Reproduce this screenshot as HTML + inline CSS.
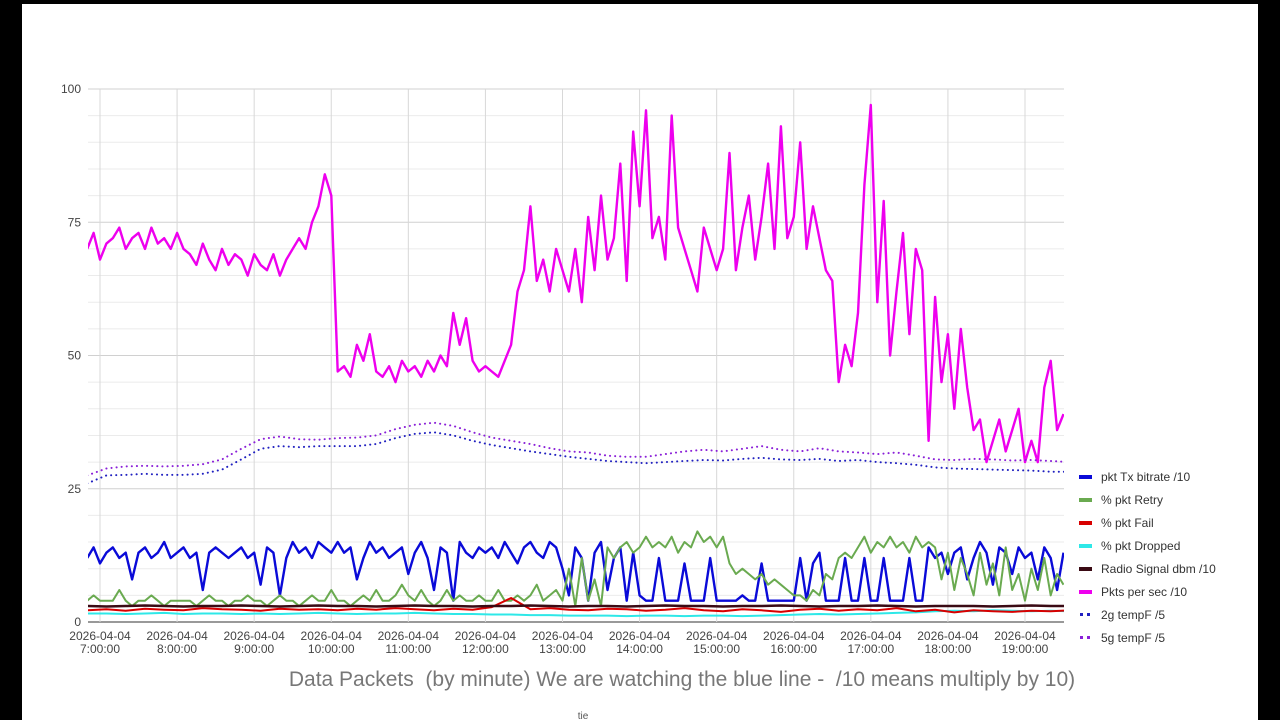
<!DOCTYPE html>
<html><head><meta charset="utf-8"><style>
html,body{margin:0;padding:0;background:#000;}
svg{display:block;font-family:"Liberation Sans",Arial,sans-serif;}
</style></head><body>
<svg id="chart" width="1280" height="720" viewBox="0 0 1280 720">
<rect x="0" y="0" width="1280" height="720" fill="#000"/>
<rect x="22" y="4" width="1236" height="716" fill="#fff"/>
<g id="grid"></g>
<g id="series"></g>
<g id="axes"></g>
<g id="legend"></g>
<text x="682" y="686" text-anchor="middle" font-size="21" fill="#777" style="white-space:pre" xml:space="preserve">Data Packets  (by minute) We are watching the blue line -  /10 means multiply by 10)</text>
<text x="583" y="719" text-anchor="middle" font-size="10" fill="#555">tie</text>
</svg>
<script>
// ---- data ----
const yTicks = [0, 25, 50, 75, 100];
const hourTicks = [7, 8, 9, 10, 11, 12, 13, 14, 15, 16, 17, 18, 19];
const dateLabel = "2026-04-04";
const startMinute = 410; // 6:50
const fineStep = 5;
const coarseStep = 15;

const pktsPerSec = [70,73,68,
71,72,74,70,72,73,70,74,71,72,70,73,
70,69,67,71,68,66,70,67,69,68,65,69,
67,66,69,65,68,70,72,70,75,78,84,80,
47,48,46,52,49,54,47,46,48,45,49,47,
48,46,49,47,50,48,58,52,57,49,47,48,
47,46,49,52,62,66,78,64,68,62,70,66,
62,70,60,76,66,80,68,72,86,64,92,78,
96,72,76,68,95,74,70,66,62,74,70,66,
70,88,66,74,80,68,76,86,70,93,72,76,
90,70,78,72,66,64,45,52,48,58,82,97,
60,79,50,62,73,54,70,66,34,61,45,54,
40,55,44,36,38,30,34,38,32,36,40,30,
34,30,44,49,36,39];

const txBitrate = [12,14,11,
13,14,12,13,8,13,14,12,13,15,12,13,
14,12,13,6,13,14,13,12,13,14,12,13,
7,14,13,5,12,15,13,14,12,15,14,13,
15,13,14,8,12,15,13,14,12,13,14,9,
13,15,12,6,14,13,4,15,13,12,14,13,
14,12,15,13,11,14,15,13,12,15,14,10,
5,14,12,4,13,15,6,12,14,4,13,5,
4,4,12,4,4,4,11,4,4,4,12,4,
4,4,4,5,4,4,11,4,4,4,4,4,
12,4,11,13,4,4,4,12,4,4,12,4,
4,12,4,4,4,12,4,4,14,12,13,9,
13,14,8,12,15,13,7,14,13,9,14,12,
13,8,14,12,6,13];

const pktRetry = [4,5,4,
4,4,6,4,3,4,4,5,4,3,4,4,
4,4,3,4,5,4,4,3,4,4,5,4,
4,3,4,5,4,4,3,4,5,4,4,6,
4,4,3,4,5,4,6,4,4,5,7,5,
4,6,4,3,4,6,4,5,4,4,5,4,
4,6,4,4,5,4,5,7,4,5,6,4,
10,3,12,4,8,3,14,12,14,15,13,14,
16,14,15,14,16,13,15,14,17,15,16,14,
16,11,9,10,9,8,9,7,8,7,6,5,
5,4,6,5,9,8,12,13,12,14,16,13,
15,14,16,14,15,13,16,14,15,14,8,13,
6,12,9,5,13,7,11,5,14,6,9,4,
10,6,12,5,9,7];

const pktFail = [2.2,2.4,2.1,2.5,2.3,2.2,2.6,2.4,2.3,2.1,2.5,2.3,2.4,2.2,2.5,2.3,2.6,2.4,2.2,2.5,2.3,2.8,4.5,2.4,2.6,2.3,2.2,2.5,2.4,2.1,2.3,2.6,2.2,2.0,2.4,2.2,1.9,2.3,2.5,2.1,2.4,2.2,2.6,2.0,2.3,1.8,2.2,2.0,1.9,2.1,2.0,2.2];
const pktDropped = [1.6,1.6,1.5,1.6,1.7,1.5,1.6,1.6,1.5,1.6,1.5,1.6,1.7,1.6,1.5,1.6,1.6,1.7,1.6,1.5,1.5,1.4,1.4,1.3,1.3,1.2,1.2,1.2,1.1,1.2,1.2,1.1,1.2,1.2,1.1,1.2,1.3,1.4,1.5,1.4,1.5,1.6,1.7,1.8,2.0,2.1,2.0,2.2,2.1,2.0,2.1,2.0];
const radioSignal = [3.0,2.9,3.0,3.1,3.0,2.9,3.0,3.0,3.1,3.0,2.9,3.0,3.1,3.0,3.0,2.9,3.0,3.1,3.0,3.0,2.9,3.0,3.0,3.1,3.0,2.9,3.0,3.0,2.9,3.0,3.1,3.0,3.0,2.9,3.0,3.0,3.1,3.0,2.9,3.0,3.0,3.1,3.0,2.9,3.0,3.0,3.0,2.9,3.0,3.1,3.0,3.0];
const temp2g = [26,27.5,27.6,27.8,27.6,27.6,27.8,28.6,30.5,32.5,33,32.8,33,33,33,33.4,34.5,35.3,35.6,35,34,33.2,32.6,32,31.5,31,30.6,30.2,30,29.8,30,30.2,30.4,30.3,30.6,30.8,30.5,30.4,30.6,30.2,30.4,30,29.8,29.5,29,28.8,28.7,28.6,28.5,28.4,28.2,28.2];
const temp5g = [27.5,28.8,29.2,29.3,29.2,29.3,29.6,30.5,32.5,34.3,34.8,34.3,34.2,34.5,34.6,35,36.2,37,37.4,36.8,35.6,34.6,34,33.4,32.6,32,31.8,31.2,31,31,31.5,32,32.3,32,32.5,33,32.3,32,32.6,32,31.8,31.5,31.8,31.2,30.5,30.4,30.6,30.5,30.3,30.4,30.2,30];

const legendLabels = ["pkt Tx bitrate /10","% pkt Retry","% pkt Fail","% pkt Dropped","Radio Signal dbm /10","Pkts per sec /10","2g tempF /5","5g tempF /5"];

// ---- scales ----
const PX0 = 88, PX1 = 1064, PY0 = 622, PY1 = 89;
function yScale(v){ return PY0 - v * (PY0 - PY1) / 100; }
function xScale(min){ return 100 + (min - 420) * (1025 - 100) / 720; }
const NS = "http://www.w3.org/2000/svg";
function mk(tag, attrs, parent){ const e = document.createElementNS(NS, tag); for (const k in attrs) e.setAttribute(k, attrs[k]); parent.appendChild(e); return e; }

const grid = document.getElementById('grid');
for (let v = 0; v <= 100; v += 5) {
  if (yTicks.includes(v)) continue;
  const l = mk('line', {x1:PX0, x2:PX1, y1:yScale(v), y2:yScale(v), stroke:'#ebebeb', 'stroke-width':1}, grid);
  
  
}
yTicks.forEach(v => {
  const l = mk('line', {x1:PX0, x2:PX1, y1:yScale(v), y2:yScale(v), stroke: v===0 ? '#333' : '#d0d0d0', 'stroke-width':1}, grid);
  
  
});
hourTicks.forEach(h => {
  const x = xScale(h*60);
  const l = mk('line', {x1:x, x2:x, y1:PY1, y2:PY0, stroke:'#d8d8d8', 'stroke-width':1}, grid);
  
  
});

const axes = document.getElementById('axes');
yTicks.forEach(v => {
  const t = mk('text', {x:81, y:yScale(v)+4, 'text-anchor':'end', 'font-size':12, fill:'#444'}, axes);
  t.textContent = String(v);
  
  
});
hourTicks.forEach(h => {
  const x = xScale(h*60);
  const t = mk('text', {x:x, y:640, 'text-anchor':'middle', 'font-size':12, fill:'#444'}, axes);
  
  
  const a = mk('tspan', {x:x, dy:0}, t); a.textContent = dateLabel;
  const b = mk('tspan', {x:x, dy:13}, t); b.textContent = h + ":00:00";
});

// clip
const defs = mk('defs', {}, document.getElementById('chart'));
const cp = mk('clipPath', {id:'plotclip'}, defs);
mk('rect', {x:PX0, y:PY1-5, width:PX1-PX0, height:PY0-PY1+10}, cp);

const seriesG = document.getElementById('series');
seriesG.setAttribute('clip-path', 'url(#plotclip)');
function drawLine(values, step, color, width, name, dash){
  let d = '';
  values.forEach((v, i) => { d += (i ? 'L' : 'M') + xScale(startMinute + i*step).toFixed(1) + ',' + yScale(v).toFixed(1); });
  const attrs = {d:d, fill:'none', stroke:color, 'stroke-width':width, 'stroke-linejoin':'round'};
  if (dash) { attrs['stroke-dasharray'] = dash; attrs['stroke-linecap'] = 'round'; }
  const p = mk('path', attrs, seriesG);
  
  
}
drawLine(txBitrate, fineStep, '#0a0ad8', 2.4, 'tx-bitrate-line');
drawLine(pktRetry, fineStep, '#6aaa50', 2, 'retry-line');
drawLine(pktDropped, coarseStep, '#2ee8e8', 2, 'dropped-line');
drawLine(pktFail, coarseStep, '#d80000', 2, 'fail-line');
drawLine(radioSignal, coarseStep, '#3a0a14', 2.5, 'radio-signal-line');
drawLine(pktsPerSec, fineStep, '#ee00ee', 2.4, 'pkts-per-sec-line');
drawLine(temp2g, coarseStep, '#2020c0', 2, 'temp-2g-line', '0.1 5');
drawLine(temp5g, coarseStep, '#8a20d8', 2, 'temp-5g-line', '0.1 5');

// legend
const legendColors = ['#0a0ad8','#6aaa50','#d80000','#2ee8e8','#3a0a14','#ee00ee','#2020c0','#8a20d8'];
const lg = document.getElementById('legend');
legendLabels.forEach((lab, i) => {
  const y = 477 + i*23;
  const g = mk('g', {}, lg);
  
  
  if (i >= 6) {
    mk('rect', {x:1080, y:y-2, width:3, height:3, fill:legendColors[i]}, g);
    mk('rect', {x:1087, y:y-2, width:3, height:3, fill:legendColors[i]}, g);
  } else {
    mk('rect', {x:1079, y:y-2, width:13, height:4, fill:legendColors[i]}, g);
  }
  const t = mk('text', {x:1101, y:y+4, 'font-size':12, fill:'#333'}, g);
  t.textContent = lab;
});
</script>
</body></html>
